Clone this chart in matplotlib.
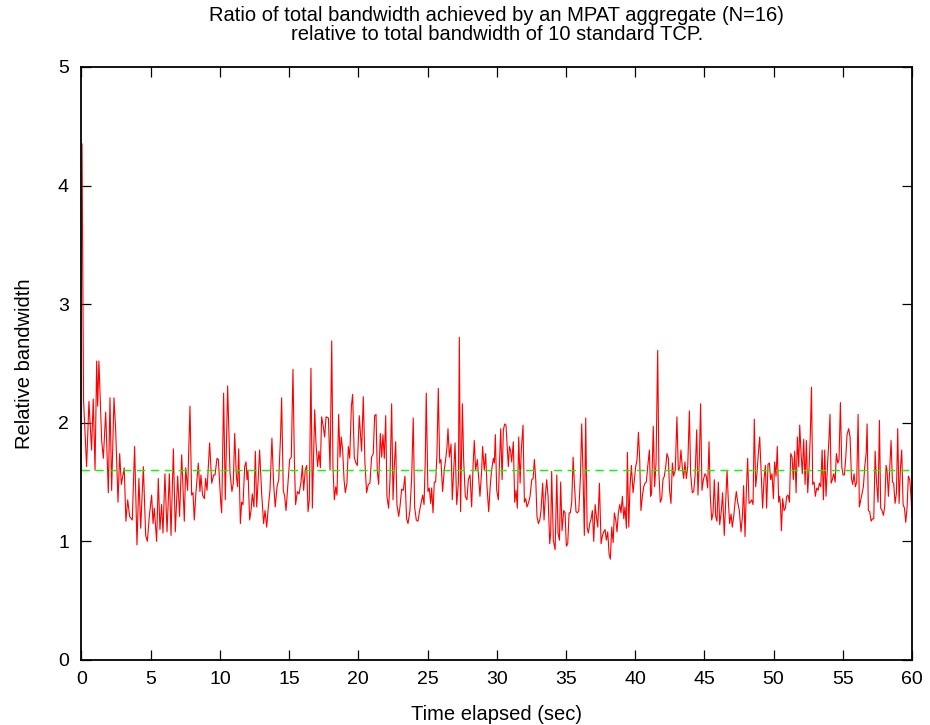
import matplotlib
matplotlib.use('Agg')
import matplotlib.pyplot as plt
import numpy as np

plt.rcParams['font.family'] = ['Liberation Sans', 'DejaVu Sans']

t_00 = [0.04, 0.15, 0.37, 0.54, 0.73, 0.85, 0.98, 1.10, 1.17, 1.26, 1.46, 1.58, 1.75, 1.94,
        2.06, 2.18, 2.35, 2.47, 2.64, 2.76, 2.88, 3.09, 3.21, 3.34, 3.48, 3.67, 3.84, 4.01,
        4.15, 4.28, 4.47, 4.64, 4.76, 4.90, 5.07, 5.17, 5.26, 5.43, 5.55, 5.67, 5.79, 5.89,
        6.03, 6.18, 6.35, 6.47, 6.64, 6.78, 6.95, 7.09, 7.24, 7.43, 7.53, 7.67, 7.84, 7.96,
        8.06, 8.15, 8.27, 8.44, 8.56, 8.63, 8.75, 8.88, 8.97, 9.07, 9.26, 9.41, 9.55, 9.65,
        9.79, 9.89]
r_00 = [4.35, 2.19, 1.63, 2.18, 1.77, 2.20, 1.60, 2.52, 2.14, 2.52, 1.85, 1.70, 2.09, 1.41,
        2.21, 1.43, 2.21, 1.94, 1.33, 1.74, 1.48, 1.62, 1.17, 1.35, 1.21, 1.18, 1.80, 0.97,
        1.53, 1.11, 1.63, 1.05, 1.00, 1.21, 1.39, 1.15, 1.28, 1.00, 1.53, 1.10, 1.31, 1.07,
        1.57, 1.08, 1.57, 1.05, 1.78, 1.08, 1.55, 1.21, 1.73, 1.17, 1.62, 1.43, 2.14, 1.39,
        1.41, 1.18, 1.41, 1.66, 1.42, 1.56, 1.39, 1.36, 1.53, 1.43, 1.83, 1.49, 1.56, 1.56,
        1.70, 1.69]

t_10 = [10.06, 10.13, 10.27, 10.39, 10.56, 10.73, 10.87, 10.97, 11.07, 11.19, 11.28, 11.36,
        11.48, 11.57, 11.67, 11.79, 11.89, 11.96, 12.03, 12.15, 12.25, 12.34, 12.46, 12.56,
        12.66, 12.78, 12.87, 13.02, 13.16, 13.26, 13.38, 13.50, 13.62, 13.76, 13.88, 14.00,
        14.13, 14.25, 14.39, 14.46, 14.58, 14.68, 14.78, 14.90, 15.04, 15.16, 15.28, 15.38,
        15.47, 15.60, 15.72, 15.86, 15.96, 16.05, 16.17, 16.27, 16.37, 16.46, 16.58, 16.68,
        16.85, 16.94, 17.06, 17.16, 17.26, 17.35, 17.47, 17.57, 17.67, 17.84, 17.96, 18.08,
        18.17, 18.27, 18.37, 18.46, 18.58, 18.68, 18.77, 18.87, 18.97, 19.06, 19.18, 19.28,
        19.38, 19.50, 19.59, 19.71, 19.83, 19.93, 20.07]
r_10 = [1.33, 1.24, 2.25, 1.35, 2.31, 1.58, 1.42, 1.49, 1.91, 1.55, 1.46, 1.78,
        1.15, 1.33, 1.31, 1.63, 1.67, 1.52, 1.60, 1.18, 1.26, 1.40, 1.29, 1.76,
        1.29, 1.55, 1.77, 1.40, 1.15, 1.26, 1.12, 1.29, 1.43, 1.87, 1.49, 1.29,
        1.46, 1.52, 1.91, 2.21, 1.43, 1.38, 1.26, 1.46, 1.69, 1.71, 2.45, 1.69,
        1.31, 1.42, 1.40, 1.50, 1.64, 1.43, 1.60, 1.64, 1.25, 1.35, 2.46, 1.28,
        2.11, 1.83, 1.63, 1.76, 1.62, 2.05, 1.97, 1.88, 2.05, 2.04, 1.60, 2.69,
        1.63, 1.35, 1.46, 1.39, 2.07, 1.71, 1.88, 1.77, 1.52, 1.41, 1.49, 1.80,
        1.70, 2.14, 2.24, 1.71, 1.66, 1.64, 2.06]

t_20 = [20.24, 20.36, 20.48, 20.60, 20.72, 20.84, 20.96, 21.08, 21.18, 21.28, 21.37, 21.47,
        21.59, 21.69, 21.78, 21.88, 21.98, 22.07, 22.19, 22.29, 22.41, 22.51, 22.60, 22.70,
        22.79, 22.92, 23.01, 23.13, 23.25, 23.37, 23.49, 23.59, 23.73, 23.85, 23.97, 24.07,
        24.19, 24.31, 24.43, 24.53, 24.65, 24.75, 24.84, 24.91, 25.03, 25.13, 25.23, 25.30,
        25.40, 25.49, 25.59, 25.68, 25.78, 25.88, 25.97, 26.09, 26.21, 26.31, 26.41, 26.48,
        26.58, 26.70, 26.79, 26.89, 26.99, 27.11, 27.23, 27.30, 27.39, 27.52, 27.61, 27.73,
        27.85, 27.95, 28.07, 28.19, 28.29, 28.38, 28.48, 28.60, 28.70, 28.79, 28.91, 28.98,
        29.10, 29.20, 29.30, 29.42, 29.54, 29.63, 29.76, 29.83, 29.90, 30.00, 30.12]
r_20 = [1.76, 2.22, 1.66, 1.41, 1.48, 1.49, 1.71, 1.74, 2.06, 2.07, 1.60, 1.48,
        1.91, 1.71, 1.90, 1.70, 2.06, 1.38, 1.28, 1.52, 2.16, 1.35, 1.63, 1.84,
        1.31, 1.21, 1.29, 1.44, 1.43, 1.55, 1.19, 1.15, 1.26, 1.52, 2.04, 1.29,
        1.18, 1.17, 1.26, 1.32, 1.39, 1.31, 1.69, 2.25, 1.42, 1.45, 1.32, 1.45,
        1.24, 1.50, 1.50, 1.73, 2.29, 1.66, 1.69, 1.42, 1.60, 1.69, 1.80, 1.95,
        1.71, 1.82, 1.35, 1.60, 1.83, 1.31, 1.49, 2.72, 1.25, 2.16, 1.69, 1.38,
        1.35, 1.52, 1.56, 1.29, 1.63, 1.85, 1.60, 1.69, 1.52, 1.38, 1.59, 1.80,
        1.60, 1.74, 1.46, 1.25, 1.48, 1.60, 1.70, 1.66, 1.90, 1.43, 1.35]

t_30 = [30.19, 30.29, 30.39, 30.48, 30.58, 30.67, 30.77, 30.84, 30.92, 31.01, 31.08, 31.20,
        31.30, 31.40, 31.49, 31.59, 31.69, 31.78, 31.90, 32.00, 32.10, 32.19, 32.31, 32.41,
        32.53, 32.63, 32.72, 32.82, 32.91, 33.01, 33.11, 33.20, 33.32, 33.42, 33.52, 33.61,
        33.71, 33.83, 33.90, 33.97, 34.09, 34.22, 34.34, 34.43, 34.53, 34.62, 34.72, 34.84,
        34.94, 35.03, 35.13, 35.23, 35.32, 35.42, 35.52, 35.61, 35.73, 35.83, 35.93, 36.05,
        36.14, 36.24, 36.33, 36.43, 36.53, 36.62, 36.72, 36.82, 36.91, 37.01, 37.11, 37.20,
        37.30, 37.42, 37.54, 37.64, 37.73, 37.83, 37.92, 38.02, 38.12, 38.21, 38.31, 38.41,
        38.50, 38.60, 38.69, 38.79, 38.89, 38.98, 39.08, 39.18, 39.27, 39.37, 39.44, 39.54,
        39.63, 39.73, 39.85, 39.95, 40.04, 40.14, 40.24, 40.33]
r_30 = [1.63, 1.95, 1.52, 1.94, 1.99, 1.98, 1.77, 1.63, 1.80, 1.76, 1.67, 1.84,
        1.33, 1.43, 1.28, 1.88, 1.49, 1.78, 1.98, 1.33, 1.36, 1.29, 1.33, 1.38,
        1.52, 1.53, 1.69, 1.52, 1.21, 1.15, 1.18, 1.26, 1.49, 1.18, 1.39, 1.52,
        1.38, 0.98, 1.07, 1.59, 1.01, 0.93, 1.56, 1.07, 1.01, 1.50, 1.09, 1.26,
        1.24, 0.96, 0.98, 1.24, 1.24, 1.33, 1.71, 1.49, 1.25, 1.24, 1.26, 1.55,
        1.99, 1.55, 1.05, 2.04, 1.12, 1.07, 1.15, 1.19, 1.26, 1.00, 1.31, 1.21,
        1.12, 1.49, 0.98, 1.05, 1.08, 1.10, 1.01, 1.08, 0.89, 0.85, 1.12, 0.99,
        1.24, 1.18, 1.08, 1.24, 1.31, 1.24, 1.38, 1.19, 1.29, 1.11, 1.75, 1.12,
        1.46, 1.64, 1.41, 1.53, 1.63, 1.69, 1.92, 1.69]

t_40 = [40.42, 40.52, 40.62, 40.71, 40.81, 40.91, 41.03, 41.12, 41.19, 41.31, 41.41, 41.51,
        41.63, 41.72, 41.82, 41.92, 42.01, 42.11, 42.21, 42.30, 42.40, 42.49, 42.59, 42.69,
        42.78, 42.90, 43.02, 43.12, 43.22, 43.31, 43.41, 43.51, 43.60, 43.70, 43.80, 43.92,
        44.01, 44.13, 44.23, 44.33, 44.45, 44.54, 44.64, 44.73, 44.83, 44.93, 45.05, 45.14,
        45.24, 45.34, 45.43, 45.53, 45.63, 45.72, 45.82, 45.91, 46.01, 46.11, 46.23, 46.32,
        46.44, 46.54, 46.64, 46.73, 46.83, 46.93, 47.02, 47.12, 47.22, 47.31, 47.41, 47.53,
        47.65, 47.75, 47.84, 47.94, 48.03, 48.13, 48.23, 48.32, 48.42, 48.52, 48.61, 48.71,
        48.80, 48.90, 49.00, 49.09, 49.21, 49.31, 49.41, 49.50, 49.60, 49.70, 49.79, 49.89,
        49.99, 50.08, 50.18, 50.27, 50.37, 50.44]
r_40 = [1.26, 1.38, 1.46, 1.49, 1.50, 1.63, 1.77, 1.38, 1.41, 1.97, 1.46, 1.66,
        2.61, 1.57, 1.33, 1.36, 1.52, 1.55, 1.63, 1.74, 1.70, 1.43, 1.32, 1.66,
        1.55, 1.60, 2.05, 1.60, 1.62, 1.77, 1.62, 1.53, 1.67, 1.53, 1.63, 2.10,
        1.57, 1.41, 1.42, 1.55, 1.94, 1.39, 1.69, 2.16, 1.43, 1.52, 1.57, 1.55,
        1.45, 1.84, 1.38, 1.18, 1.24, 1.52, 1.21, 1.17, 1.50, 1.14, 1.26, 1.41,
        1.05, 1.32, 1.60, 1.35, 1.15, 1.23, 1.12, 1.21, 1.33, 1.42, 1.33, 1.26,
        1.08, 1.21, 1.47, 1.04, 1.41, 1.70, 1.32, 1.33, 1.35, 1.31, 2.03, 1.46,
        1.57, 1.74, 1.88, 1.63, 1.28, 1.52, 1.64, 1.28, 1.65, 1.66, 1.52, 1.57,
        1.36, 1.67, 1.55, 1.80, 1.33, 1.38]

t_50 = [50.50, 50.57, 50.66, 50.76, 50.86, 50.95, 51.05, 51.15, 51.24, 51.34, 51.43, 51.53,
        51.63, 51.72, 51.82, 51.89, 51.99, 52.08, 52.18, 52.28, 52.37, 52.47, 52.57, 52.66,
        52.74, 52.83, 52.93, 53.02, 53.12, 53.22, 53.31, 53.41, 53.51, 53.60, 53.70, 53.79,
        53.92, 54.01, 54.08, 54.16, 54.25, 54.35, 54.45, 54.54, 54.64, 54.73, 54.83, 54.93,
        55.02, 55.12, 55.22, 55.31, 55.43, 55.53, 55.63, 55.72, 55.82, 55.91, 56.01, 56.11,
        56.20, 56.30, 56.40, 56.49, 56.59, 56.69, 56.76, 56.85, 56.95, 57.05, 57.14, 57.24,
        57.34, 57.43, 57.55, 57.65, 57.74, 57.84, 57.94, 58.03, 58.13, 58.20, 58.30, 58.40,
        58.49, 58.59, 58.68, 58.78, 58.88, 58.97, 59.07, 59.17, 59.26, 59.36, 59.46, 59.55,
        59.65, 59.74, 59.84, 59.94, 60.00]
r_50 = [1.31, 1.09, 1.36, 1.26, 1.28, 1.38, 1.39, 1.33, 1.74, 1.71, 1.52, 1.76,
        1.41, 1.88, 1.63, 1.98, 1.74, 1.57, 1.86, 1.48, 1.85, 1.41, 1.63, 1.91,
        2.30, 1.48, 1.50, 1.38, 1.45, 1.43, 1.49, 1.46, 1.77, 1.35, 1.77, 1.38,
        1.69, 1.88, 2.07, 1.49, 1.52, 1.57, 1.50, 1.74, 1.66, 1.69, 2.17, 1.63,
        1.56, 1.56, 1.71, 1.90, 1.95, 1.88, 1.53, 1.48, 1.57, 1.46, 1.50, 2.07,
        1.29, 1.35, 1.41, 1.46, 1.63, 1.74, 1.99, 1.26, 1.25, 1.17, 1.19, 1.19,
        1.76, 1.52, 1.33, 2.02, 1.28, 1.26, 1.22, 1.29, 1.64, 1.60, 1.38, 1.63,
        1.85, 1.50, 1.49, 1.32, 1.41, 1.95, 1.32, 1.62, 1.77, 1.31, 1.28, 1.16,
        1.29, 1.55, 1.52, 1.36, 1.21]

mean_level = 1.6

time_s = np.concatenate([t_00, t_10, t_20, t_30, t_40, t_50])
rel_bw = np.concatenate([r_00, r_10, r_20, r_30, r_40, r_50])

fig = plt.figure(figsize=(9.3, 7.25), dpi=100)
ax = fig.add_axes([0.0876, 0.0897, 0.893, 0.818])

ax.plot(time_s, rel_bw, color='red', linewidth=0.8)
ax.axhline(mean_level, color='#00ff00', linewidth=1.0, dashes=(6, 4))

ax.set_xlim(0, 60)
ax.set_ylim(0, 5)
ax.set_xticks(range(0, 61, 5))
ax.set_yticks(range(0, 6))
ax.tick_params(direction='in', length=7, width=0.9, top=True, right=True,
               labelsize=14)
ax.tick_params(axis='x', pad=8)
ax.tick_params(axis='y', pad=9)
for sp in ax.spines.values():
    sp.set_linewidth(1.3)

ax.set_title("Ratio of total bandwidth achieved by an MPAT aggregate (N=16)\n"
             "relative to total bandwidth of 10 standard TCP.",
             fontsize=14.5, pad=19.5, linespacing=1.0)
ax.set_xlabel("Time elapsed (sec)", fontsize=14.5, labelpad=12)
ax.set_ylabel("Relative bandwidth", fontsize=14.5, labelpad=17)

fig.savefig("out.png", dpi=100)
